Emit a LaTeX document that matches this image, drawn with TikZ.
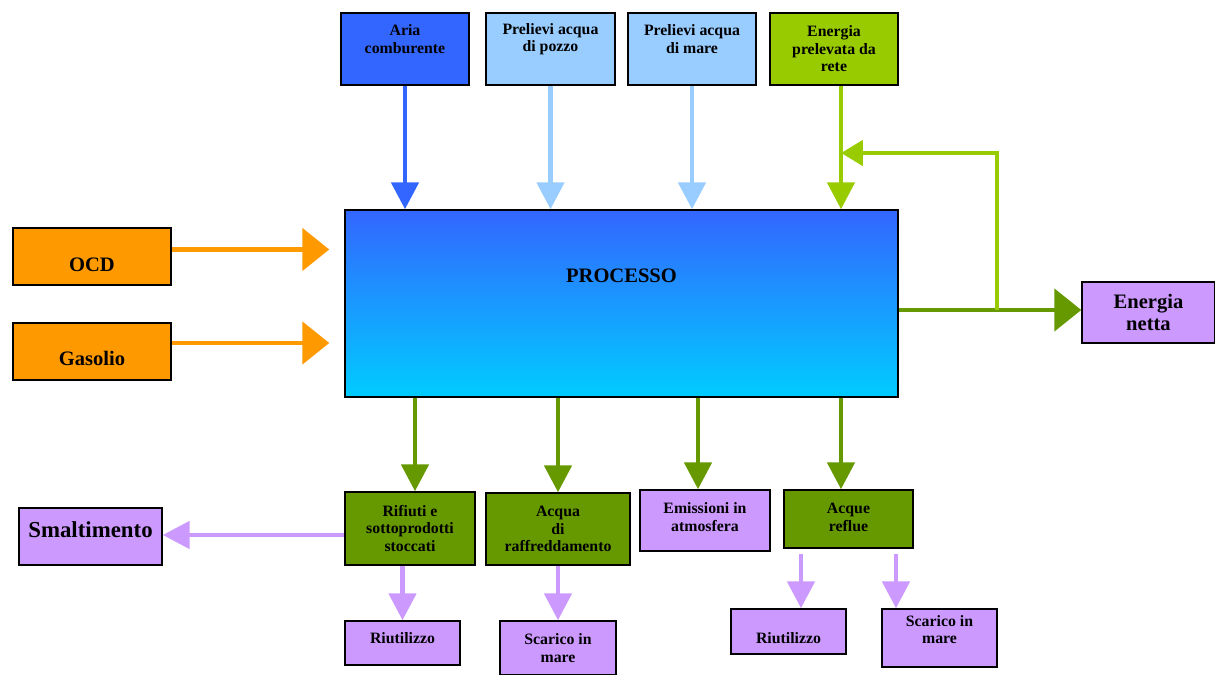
\documentclass[tikz,border=0pt]{standalone}
\usepackage{fontspec}
\setmainfont{Liberation Serif}
\usetikzlibrary{arrows.meta,calc}
\definecolor{airblue}{HTML}{3366FF}
\definecolor{skyblue}{HTML}{99CCFF}
\definecolor{lime}{HTML}{99CC00}
\definecolor{leaf}{HTML}{669900}
\definecolor{fuel}{HTML}{FF9900}
\definecolor{lilac}{HTML}{CC99FF}
\definecolor{aqua}{HTML}{00CCFF}
\newcommand{\px}{*0.02cm}
\tikzset{
  box/.style={draw=black,line width=0.8pt,inner sep=0pt},
  sz/.style 2 args={minimum width=#1\px,minimum height=#2\px},
  txt/.style={font=\fontsize{9}{10}\selectfont\bfseries,align=center,inner sep=0pt},
  bigtxt/.style={font=\fontsize{11.7}{12.5}\selectfont\bfseries,align=center,inner sep=0pt},
  down/.style={line width=2.8pt,-{Triangle[width=15.3pt,length=15.3pt]}},
  fat/.style={line width=2.8pt,-{Triangle[width=23.8pt,length=15.3pt]}},
  loopflow/.style={line width=2.8pt,-{Triangle[width=14.2pt,length=12.5pt]}}
}
\begin{document}
\begin{tikzpicture}[x=0.02cm,y=-0.02cm]
  \useasboundingbox (0,0) rectangle (1215,675);

  % inputs on top
  \node[box,sz={128}{72},fill=airblue,label={[txt,yshift=10\px]center:Aria\\comburente}] (aria) at (405,49) {};
  \node[box,sz={129}{72},fill=skyblue,label={[txt,yshift=10\px]center:Prelievi acqua\\di pozzo}] (pozzo) at (550.5,49) {};
  \node[box,sz={128}{72},fill=skyblue,label={[txt,yshift=10\px]center:Prelievi acqua\\di mare}] (maretop) at (692,49) {};
  \node[box,sz={128}{72},fill=lime,label={[txt]center:Energia\\prelevata da\\rete}] (rete) at (834,49) {};

  % process
  \node[box,sz={553}{187},top color=airblue,bottom color=aqua,label={[bigtxt,yshift=27.5\px]center:PROCESSO}] (proc) at (621.5,303.5) {};

  % fuels
  \node[box,sz={158}{57},fill=fuel,label={[bigtxt,yshift=-8.5\px]center:OCD}] (ocd) at (92,256.5) {};
  \node[box,sz={158}{57},fill=fuel,label={[bigtxt,yshift=-6.5\px]center:Gasolio}] (gas) at (92,351.5) {};
  \node[box,sz={133}{61},fill=lilac,label={[bigtxt]center:Energia\\netta}] (enet) at (1148.5,312.5) {};

  % outputs
  \node[box,sz={130}{73},fill=leaf,label={[txt]center:Rifiuti e\\sottoprodotti\\stoccati}] (rif) at (410,528.5) {};
  \node[box,sz={144}{72},fill=leaf,label={[txt]center:Acqua\\di\\raffreddamento}] (acq) at (558,529) {};
  \node[box,sz={130}{61},fill=lilac,label={[txt,yshift=3.5\px]center:Emissioni in\\atmosfera}] (emi) at (705,520.5) {};
  \node[box,sz={129}{58},fill=leaf,label={[txt,yshift=1.5\px]center:Acque\\reflue}] (ref) at (848.5,519) {};
  \node[box,sz={143}{57},fill=lilac,label={[bigtxt,font=\fontsize{13}{14}\selectfont\bfseries,yshift=6.5\px]center:Smaltimento}] (smal) at (90.5,536.5) {};
  \node[box,sz={115}{44},fill=lilac,label={[txt,yshift=5\px]center:Riutilizzo}] (riu1) at (402.5,643) {};
  \node[box,sz={116}{54},fill=lilac,label={[txt]center:Scarico in\\mare}] (sca1) at (558,648) {};
  \node[box,sz={115}{45},fill=lilac,label={[txt,yshift=-6.5\px]center:Riutilizzo}] (riu2) at (788.5,631.5) {};
  \node[box,sz={115}{58},fill=lilac,label={[txt,yshift=8.5\px]center:Scarico in\\mare}] (sca2) at (939.5,638) {};

  \coordinate (fork) at (997,310);
  \coordinate (fbend) at (841,153);

  % flows in
  \draw[down,airblue] (aria) -- (aria |- proc.north);
  \draw[down,skyblue] (pozzo) -- (pozzo |- proc.north);
  \draw[down,skyblue] (maretop) -- (maretop |- proc.north);
  \draw[down,lime] (rete.south -| fbend) -- (proc.north -| fbend);
  \draw[fat,fuel,shorten >=15\px] ([yshift=7\px]ocd.east) -- ([yshift=7\px]ocd.east -| proc.west);
  \draw[fat,fuel,shorten >=15\px] ([yshift=8.5\px]gas.east) -- ([yshift=8.5\px]gas.east -| proc.west);

  % energy out and back
  \draw[fat,leaf] (proc.east |- fork) -- (enet.west |- fork);
  \draw[loopflow,lime] (fork) |- (fbend);

  % flows out
  \draw[down,leaf] ([xshift=5\px]rif.north |- proc.south) -- ([xshift=5\px]rif.north);
  \draw[down,leaf] (acq.north |- proc.south) -- (acq.north);
  \draw[down,leaf] ([xshift=-7\px]emi.north |- proc.south) -- ([xshift=-7\px]emi.north);
  \draw[down,leaf] ([xshift=-7.5\px]ref.north |- proc.south) -- ([xshift=-7.5\px]ref.north);

  % destinations
  \draw[down,lilac] ([yshift=-6.5\px]rif.west) -- ([yshift=-6.5\px]rif.west -| smal.east);
  \draw[down,lilac] (riu1.north |- rif.south) -- (riu1.north);
  \draw[down,lilac] (sca1.north |- acq.south) -- (sca1.north);
  \draw[down,lilac,shorten <=5\px] ([xshift=12.5\px]riu2.north |- ref.south) -- ([xshift=12.5\px]riu2.north);
  \draw[down,lilac,shorten <=5\px] ([xshift=-43.5\px]sca2.north |- ref.south) -- ([xshift=-43.5\px]sca2.north);
\end{tikzpicture}
\end{document}
